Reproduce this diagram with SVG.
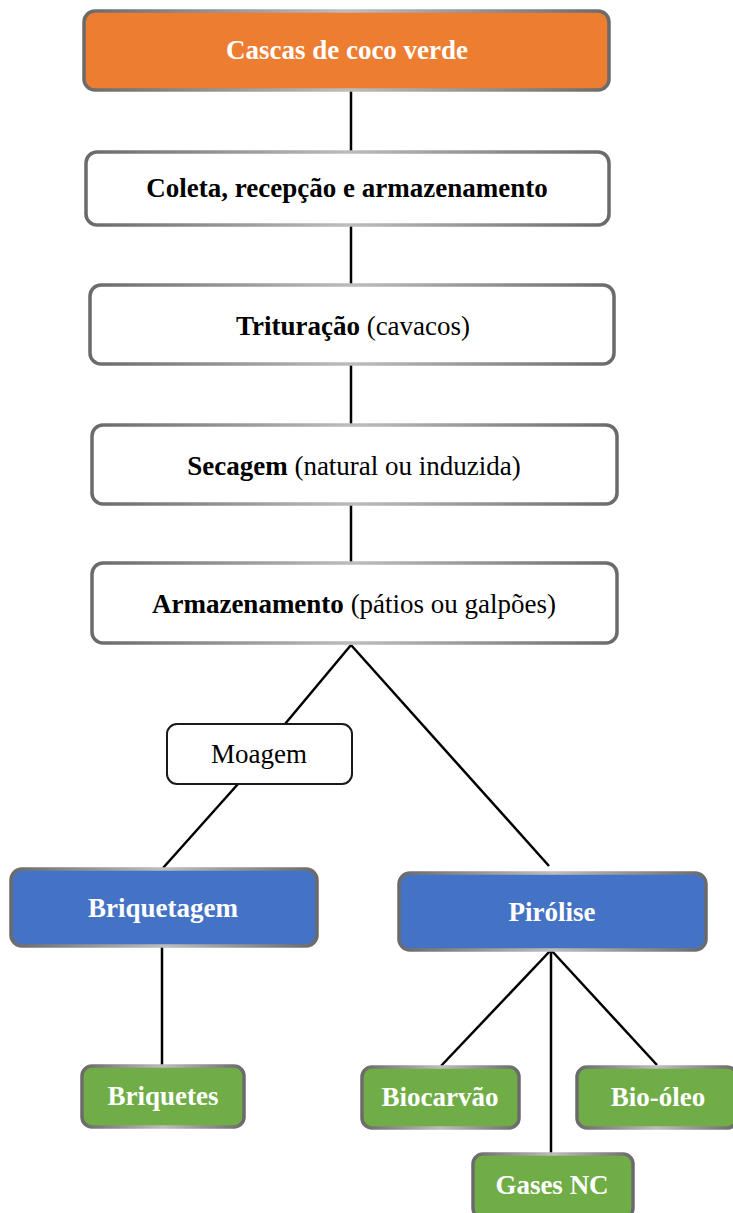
<svg xmlns="http://www.w3.org/2000/svg" width="733" height="1213" viewBox="0 0 733 1213">
<defs>
<linearGradient id="edge" x1="0" y1="0" x2="1" y2="0">
<stop offset="0" stop-color="#6a6a6a"/>
<stop offset="0.5" stop-color="#bdbdbd"/>
<stop offset="1" stop-color="#6a6a6a"/>
</linearGradient>
<style>
.box{stroke:url(#edge);stroke-width:3.5}
.w{fill:#ffffff}
.o{fill:#ed7d31}
.b{fill:#4472c4}
.g{fill:#70ad47}
.t{font-family:"Liberation Serif","Times New Roman",serif;font-size:27px;text-anchor:middle}
.bold{font-weight:bold}
.wt{fill:#ffffff;font-weight:bold}
.k{fill:#000000}
.ln{stroke:#000000;stroke-width:2.5;fill:none}
.mo{fill:#ffffff;stroke:#1a1a1a;stroke-width:2}
</style>
</defs>
<rect width="733" height="1213" fill="#ffffff"/>
<g id="connectors">
<line class="ln" x1="351" y1="90" x2="351" y2="151"/>
<line class="ln" x1="351" y1="225" x2="351" y2="284"/>
<line class="ln" x1="351" y1="364" x2="351" y2="424"/>
<line class="ln" x1="351" y1="504" x2="351" y2="562"/>
<line class="ln" x1="351" y1="645" x2="285" y2="724"/>
<line class="ln" x1="238" y1="784" x2="163" y2="868"/>
<line class="ln" x1="351" y1="645" x2="549" y2="866"/>
<line class="ln" x1="162" y1="946" x2="162" y2="1065"/>
<line class="ln" x1="551" y1="950" x2="441" y2="1066"/>
<line class="ln" x1="551" y1="950" x2="551" y2="1155"/>
<line class="ln" x1="551" y1="950" x2="657" y2="1065"/>
</g>
<g id="n1">
<rect class="box o" x="84" y="11" width="525" height="79" rx="11"/>
<text class="t wt" x="347" y="59">Cascas de coco verde</text>
</g>
<g id="n2">
<rect class="box w" x="86" y="152" width="523" height="73" rx="11"/>
<text class="t k bold" x="347" y="197">Coleta, recepção e armazenamento</text>
</g>
<g id="n3">
<rect class="box w" x="90" y="285" width="524" height="79" rx="11"/>
<text class="t k" x="353" y="335"><tspan font-weight="bold">Trituração</tspan> (cavacos)</text>
</g>
<g id="n4">
<rect class="box w" x="92" y="425" width="525" height="79" rx="11"/>
<text class="t k" x="354" y="475"><tspan font-weight="bold">Secagem</tspan> (natural ou induzida)</text>
</g>
<g id="n5">
<rect class="box w" x="92" y="563" width="525" height="80" rx="11"/>
<text class="t k" x="354" y="613"><tspan font-weight="bold">Armazenamento</tspan> (pátios ou galpões)</text>
</g>
<g id="n6">
<rect class="mo" x="167" y="724" width="185" height="60" rx="10"/>
<text class="t k" x="259" y="763">Moagem</text>
</g>
<g id="n7">
<rect class="box b" x="11" y="869" width="306" height="77" rx="11"/>
<text class="t wt" x="163" y="917">Briquetagem</text>
</g>
<g id="n8">
<rect class="box b" x="399" y="873" width="307" height="77" rx="11"/>
<text class="t wt" x="552" y="921">Pirólise</text>
</g>
<g id="n9">
<rect class="box g" x="82" y="1066" width="162" height="61" rx="10"/>
<text class="t wt" x="163" y="1105">Briquetes</text>
</g>
<g id="n10">
<rect class="box g" x="362" y="1067" width="157" height="61" rx="10"/>
<text class="t wt" x="440" y="1106">Biocarvão</text>
</g>
<g id="n11">
<rect class="box g" x="577" y="1067" width="160" height="61" rx="10"/>
<text class="t wt" x="658" y="1106">Bio-óleo</text>
</g>
<g id="n12">
<rect class="box g" x="473" y="1154" width="160" height="64" rx="10"/>
<text class="t wt" x="552" y="1194">Gases NC</text>
</g>
</svg>
